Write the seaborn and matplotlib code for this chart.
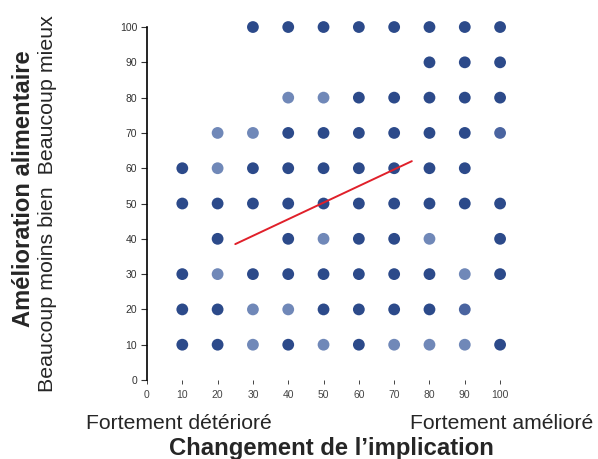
import pandas as pd
import seaborn as sns
import matplotlib.pyplot as plt

# values: x (implication change), y (food improvement), shade
row_100 = [30, 40, 50, 60, 70, 80, 90, 100]
row_100_lvl = ["D", "D", "D", "D", "D", "D", "D", "D"]
row_90 = [80, 90, 100]
row_90_lvl = ["D", "D", "D"]
row_80 = [40, 50, 60, 70, 80, 90, 100]
row_80_lvl = ["L", "L", "D", "D", "D", "D", "D"]
row_70 = [20, 30, 40, 50, 60, 70, 80, 90, 100]
row_70_lvl = ["L", "L", "D", "D", "D", "D", "D", "D", "M"]
row_60 = [10, 20, 30, 40, 50, 60, 70, 80, 90]
row_60_lvl = ["D", "L", "D", "D", "D", "D", "D", "D", "D"]
row_50 = [10, 20, 30, 40, 50, 60, 70, 80, 90, 100]
row_50_lvl = ["D", "D", "D", "D", "D", "D", "D", "D", "D", "D"]
row_40 = [20, 40, 50, 60, 70, 80, 100]
row_40_lvl = ["D", "D", "L", "D", "D", "L", "D"]
row_30 = [10, 20, 30, 40, 50, 60, 70, 80, 90, 100]
row_30_lvl = ["D", "L", "D", "D", "D", "D", "D", "D", "L", "D"]
row_20 = [10, 20, 30, 40, 50, 60, 70, 80, 90]
row_20_lvl = ["D", "D", "L", "L", "D", "D", "D", "D", "M"]
row_10 = [10, 20, 30, 40, 50, 60, 70, 80, 90, 100]
row_10_lvl = ["D", "D", "L", "D", "L", "D", "L", "L", "L", "D"]

# fitted trend line endpoints
trend_x = [25, 75]
trend_y = [38.5, 62]

rows = {
    100: (row_100, row_100_lvl), 90: (row_90, row_90_lvl), 80: (row_80, row_80_lvl),
    70: (row_70, row_70_lvl), 60: (row_60, row_60_lvl), 50: (row_50, row_50_lvl),
    40: (row_40, row_40_lvl), 30: (row_30, row_30_lvl), 20: (row_20, row_20_lvl),
    10: (row_10, row_10_lvl),
}
recs = []
for yv, (xs, lv) in rows.items():
    for xv, l in zip(xs, lv):
        recs.append({"x": xv, "y": yv, "lvl": l})
df = pd.DataFrame(recs)

sns.set_style("white")
plt.rcParams['font.family'] = ['Liberation Sans', 'DejaVu Sans']

fig = plt.figure(figsize=(5.98, 4.59), dpi=100)
ax = fig.add_axes([0.2458, 0.1721, 0.62, 0.769])

palette = {"D": "#2c4a8a", "M": "#4a64a0", "L": "#7088b8"}
sns.scatterplot(data=df, x="x", y="y", hue="lvl", palette=palette, s=72,
                edgecolor="none", legend=False, ax=ax, clip_on=False)
sns.lineplot(x=trend_x, y=trend_y, color="#e0202a", linewidth=1.4, ax=ax)

ax.set_xlim(0, 105)
ax.set_ylim(0, 100)
ax.set_xticks(range(0, 101, 10))
ax.set_yticks(range(0, 101, 10))
for s in ["top", "right", "bottom"]:
    ax.spines[s].set_visible(False)
ax.spines["left"].set_color("black")
ax.spines["left"].set_linewidth(1.2)
ax.tick_params(axis="x", labelsize=7.5, colors="#444444", length=3, width=0.7,
               bottom=True, pad=4)
ax.tick_params(axis="y", labelsize=7.5, colors="#333333", length=4, width=0.8,
               left=True, pad=3)
ax.set_xlabel("")
ax.set_ylabel("")

fig.text(0.2995, 0.0654, "Fortement détérioré", ha="center", va="baseline", fontsize=15.2)
fig.text(0.839, 0.0654, "Fortement amélioré", ha="center", va="baseline", fontsize=15.2)
fig.text(0.554, 0.0087, "Changement de l\u2019implication", ha="center", va="baseline",
         fontsize=17.2, fontweight="bold")
fig.text(0.040, 0.588, "Amélioration alimentaire", ha="center", va="center",
         rotation=90, fontsize=17.1, fontweight="bold")
fig.text(0.079, 0.557, "Beaucoup moins bien  Beaucoup mieux", ha="center", va="center",
         rotation=90, fontsize=15.4)

fig.savefig("out.png", dpi=100)
